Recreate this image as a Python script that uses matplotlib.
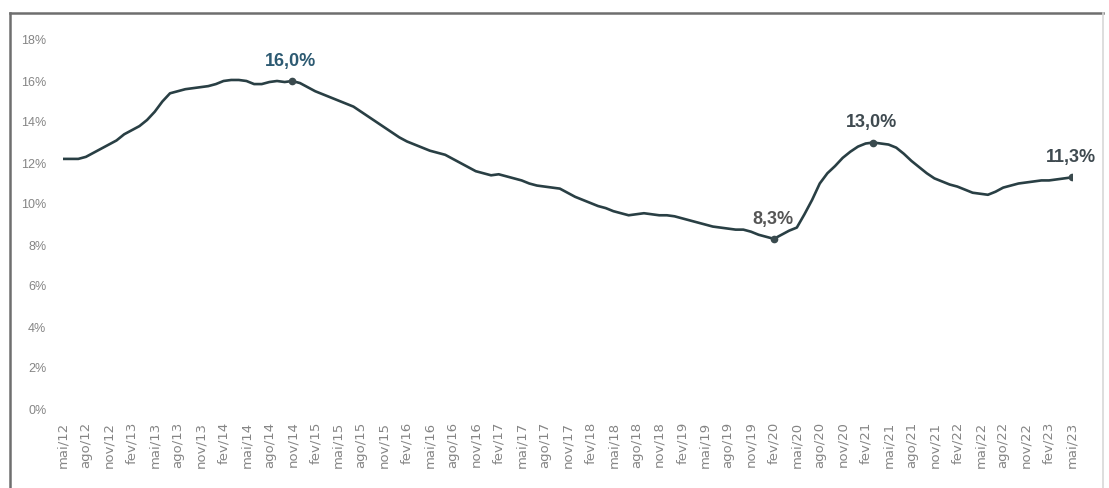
import matplotlib.pyplot as plt
from matplotlib.lines import Line2D

# taxa de desocupação mensal, mai/12 a mai/23
meses = ['jan', 'fev', 'mar', 'abr', 'mai', 'jun', 'jul', 'ago', 'set', 'out', 'nov', 'dez']
taxa = [12.2, 12.2, 12.2, 12.3, 12.5, 12.7, 12.9, 13.1, 13.4, 13.6,
        13.8, 14.1, 14.5, 15.0, 15.4, 15.5, 15.6, 15.65, 15.7, 15.75,
        15.85, 16.0, 16.05, 16.05, 16.0, 15.85, 15.85, 15.95, 16.0, 15.95,
        16.0, 15.9, 15.7, 15.5, 15.35, 15.2, 15.05, 14.9, 14.75, 14.5,
        14.25, 14.0, 13.75, 13.5, 13.25, 13.05, 12.9, 12.75, 12.6, 12.5,
        12.4, 12.2, 12.0, 11.8, 11.6, 11.5, 11.4, 11.45, 11.35, 11.25,
        11.15, 11.0, 10.9, 10.85, 10.8, 10.75, 10.55, 10.35, 10.2, 10.05,
        9.9, 9.8, 9.65, 9.55, 9.45, 9.5, 9.55, 9.5, 9.45, 9.45,
        9.4, 9.3, 9.2, 9.1, 9.0, 8.9, 8.85, 8.8, 8.75, 8.75,
        8.65, 8.5, 8.4, 8.3, 8.5, 8.7, 8.85, 9.5, 10.2, 11.0,
        11.5, 11.85, 12.25, 12.55, 12.8, 12.95, 13.0, 12.95, 12.9, 12.75,
        12.45, 12.1, 11.8, 11.5, 11.25, 11.1, 10.95, 10.85, 10.7, 10.55,
        10.5, 10.45, 10.6, 10.8, 10.9, 11.0, 11.05, 11.1, 11.15, 11.15,
        11.2, 11.25, 11.3]

# rótulos mês/ano a partir de mai/12
rotulos = []
for i in range(len(taxa)):
    m = (4 + i) % 12
    a = 12 + (4 + i) // 12
    rotulos.append(f'{meses[m]}/{a}')

# pontos destacados (índice do mês)
destaques = [30, 93, 106, 132]
cor_destaque = ['#2d5a72', '#555555', '#3f4a50', '#3f4a50']

plt.rcParams['font.family'] = ['Liberation Sans', 'DejaVu Sans']

fig = plt.figure(figsize=(11.09, 4.88), dpi=100)
ax = fig.add_axes([63 / 1109, 79 / 488, 1009 / 1109, 369 / 488])

x = list(range(len(taxa)))
ax.plot(x, taxa, color='#293f44', lw=1.9, solid_joinstyle='round')

for i, c in zip(destaques, cor_destaque):
    v = taxa[i]
    ax.plot(i, v, 'o', color='#3a4a4e', ms=4.5)
    txt = f'{v:.1f}%'.replace('.', ',')
    ax.annotate(txt, (i, v), xytext=(-1, 8), textcoords='offset points',
                ha='center', va='bottom', fontsize=13, fontweight='bold', color=c)

ax.set_xlim(0, len(taxa) - 1)
ax.set_ylim(0, 18)
ax.set_yticks(range(0, 19, 2))
ax.set_yticklabels([f'{t}%' for t in range(0, 19, 2)], fontsize=9)
ax.set_xticks(x[::3])
ax.set_xticklabels(rotulos[::3], rotation=90, family='DejaVu Sans', fontsize=9.5)
ax.tick_params(axis='both', length=0, labelcolor='#858585')
ax.tick_params(axis='y', pad=12)
ax.tick_params(axis='x', pad=9)
for s in ax.spines.values():
    s.set_visible(False)

# moldura externa: topo e esquerda escuros, direita clara
L, R, T = 10 / 1109, 1103 / 1109, 1 - 13 / 488
fig.lines.append(Line2D([L, R], [T, T], transform=fig.transFigure, color='#6e6e6e', lw=1.8))
fig.lines.append(Line2D([L, L], [0, T], transform=fig.transFigure, color='#6e6e6e', lw=1.8))
fig.lines.append(Line2D([R, R], [0, T], transform=fig.transFigure, color='#d8d8d8', lw=1.2))

fig.savefig('out.png', dpi=100)
